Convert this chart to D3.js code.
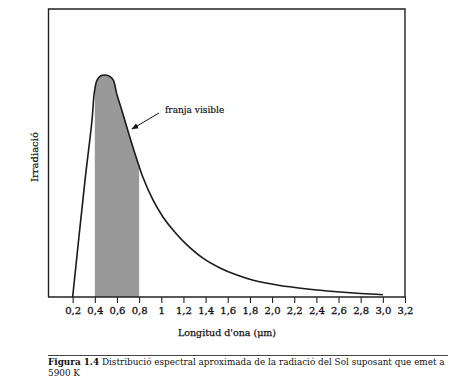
<!DOCTYPE html>
<html><head><meta charset="utf-8">
<script src="https://cdn.jsdelivr.net/npm/d3@7/dist/d3.min.js"></script>
<style>body{margin:0;background:#fff}svg{display:block}text{font-family:"DejaVu Serif",serif;fill:#111}</style>
</head><body><svg id="c" width="450" height="392"></svg>
<script>
const wavelength = [0.2,0.31,0.375,0.395,0.42,0.455,0.495,0.535,0.567,0.597,0.643,0.688,0.733,0.781,0.835,0.925,1.015,1.106,1.232,1.376,1.53,1.683,1.83,2.07,2.19,2.5,2.8,3.0];
const irradiance = [0,40,61.5,70.8,75.3,76.8,77.1,76.6,75.3,70.7,64.9,59.1,53.4,47.6,41.5,33.7,27.8,23.3,18.1,13.5,10.1,7.6,5.8,4.0,3.4,2.1,1.2,0.8];
const tickValues = [0.2,0.4,0.6,0.8,1,1.2,1.4,1.6,1.8,2.0,2.2,2.4,2.6,2.8,3.0,3.2];
const tickLabels = ["0,2","0,4","0,6","0,8","1","1,2","1,4","1,6","1,8","2,0","2,2","2,4","2,6","2,8","3,0","3,2"];
const visibleBand = [0.4, 0.8];

const svg = d3.select("#c");
const x = d3.scaleLinear().domain([0,3.2]).range([50.5,405]);
const y = d3.scaleLinear().domain([0,100]).range([297,9]);
const data = wavelength.map((w,i)=>({w, v: irradiance[i]}));
const curve = d3.curveCatmullRom.alpha(0.5);

// clip for visible band
svg.append("defs").append("clipPath").attr("id","band").append("rect")
  .attr("x", x(visibleBand[0])).attr("y", 0)
  .attr("width", x(visibleBand[1]) - x(visibleBand[0])).attr("height", y(0));
const area = d3.area().x(d=>x(d.w)).y0(y(0)).y1(d=>y(d.v)).curve(curve);
svg.append("path").datum(data).attr("d", area).attr("fill","#999").attr("clip-path","url(#band)");

// frame
svg.append("path").attr("d", `M${x(0)-2},${y(0)}V${y(100)}H${x(3.2)}V${y(0)}`)
  .attr("fill","none").attr("stroke","#222").attr("stroke-width",1.4);

// x axis
const ax = svg.append("g").attr("transform",`translate(0,${y(0)})`)
  .call(d3.axisBottom(x).tickValues(tickValues).tickFormat((d,i)=>tickLabels[i]).tickSize(6).tickPadding(4).tickSizeOuter(0));
ax.select(".domain").attr("d", `M${x(0)-2.5},0H${x(3.2)+0.7}`).attr("stroke","#222").attr("stroke-width",1.4);
ax.selectAll(".tick line").attr("stroke","#222").attr("stroke-width",1.1);
ax.selectAll(".tick text").attr("font-family","DejaVu Serif").attr("font-size",10).attr("fill","#111")
  .attr("stroke","#111").attr("stroke-width",0.3);

// curve
const line = d3.line().x(d=>x(d.w)).y(d=>y(d.v)).curve(curve);
svg.append("path").datum(data).attr("d", line).attr("fill","none").attr("stroke","#1a1a1a").attr("stroke-width",1.6);

// labels
svg.append("text").attr("x",227).attr("y",336).attr("text-anchor","middle").attr("font-size",9.5)
  .attr("stroke","#111").attr("stroke-width",0.25).text("Longitud d'ona (\u03bcm)");
svg.append("text").attr("transform","translate(38,157) rotate(-90)").attr("text-anchor","middle").attr("font-size",10)
  .attr("stroke","#111").attr("stroke-width",0.2).text("Irradiació");

// annotation
svg.append("defs").append("marker").attr("id","ah").attr("viewBox","0 0 10 10").attr("refX",9).attr("refY",5)
  .attr("markerWidth",7).attr("markerHeight",7).attr("orient","auto")
  .append("path").attr("d","M0,1L10,5L0,9z").attr("fill","#111");
svg.append("line").attr("x1",159).attr("y1",113).attr("x2",132).attr("y2",129)
  .attr("stroke","#111").attr("stroke-width",1).attr("marker-end","url(#ah)");
svg.append("text").attr("x",165).attr("y",113).attr("font-size",9).attr("stroke","#111").attr("stroke-width",0.2).text("franja visible");

// caption
svg.append("line").attr("x1",48).attr("x2",448).attr("y1",355.5).attr("y2",355.5).attr("stroke","#444").attr("stroke-width",1);
const cap = svg.append("text").attr("x",48).attr("y",365).attr("font-size",8);
cap.append("tspan").attr("font-weight","bold").text("Figura 1.4");
cap.append("tspan").text(" Distribució espectral aproximada de la radiació del Sol suposant que emet a");
const w = cap.node().getComputedTextLength();
const fs = 8*397/w;
cap.attr("font-size", fs);
svg.append("text").attr("x",48).attr("y",376).attr("font-size",fs).text("5900 K");
</script></body></html>
